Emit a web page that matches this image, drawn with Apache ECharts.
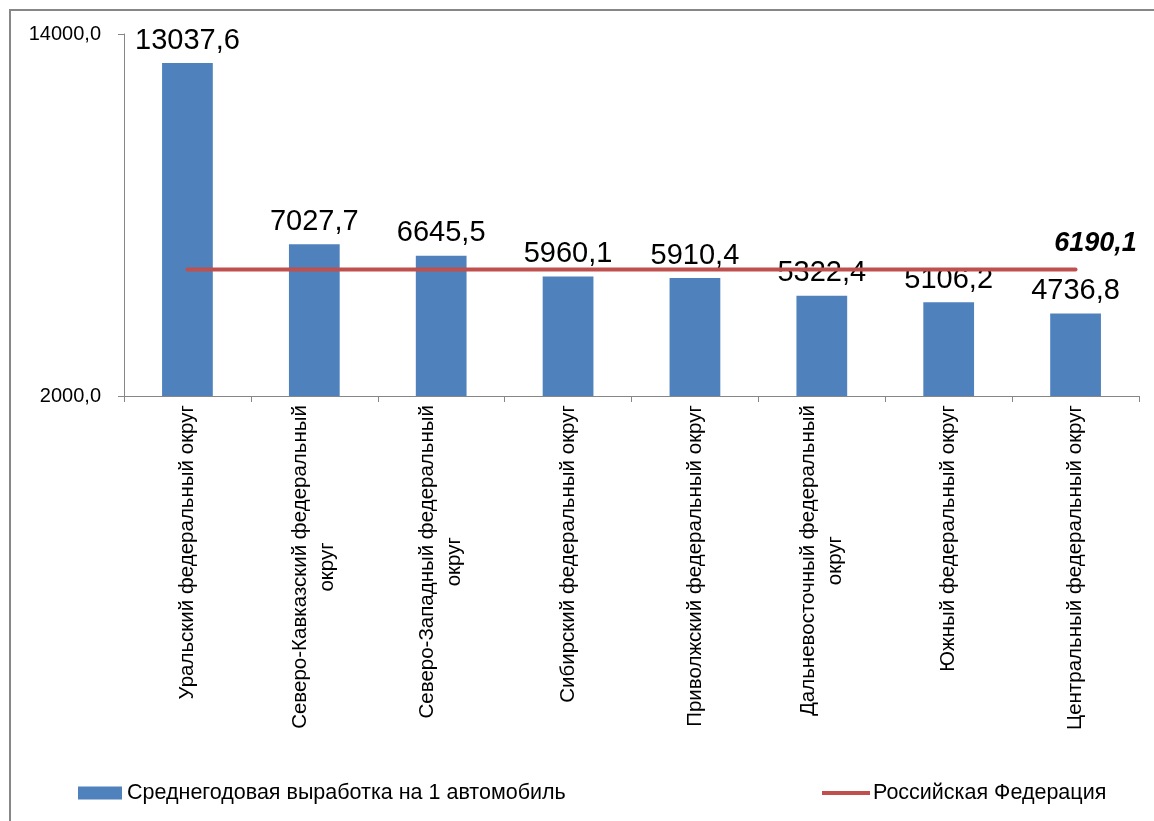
<!DOCTYPE html>
<html>
<head>
<meta charset="utf-8">
<script src="https://cdn.jsdelivr.net/npm/echarts@6/dist/echarts.min.js"></script>
<style>
  html, body { margin: 0; padding: 0; background: #fff; }
  #chart { width: 1154px; height: 821px; }
</style>
</head>
<body>
<div id="chart"></div>
<script>
// округа
const districts = [
  'Уральский федеральный округ',
  'Северо-Кавказский федеральный\nокруг',
  'Северо-Западный федеральный\nокруг',
  'Сибирский федеральный округ',
  'Приволжский федеральный округ',
  'Дальневосточный федеральный\nокруг',
  'Южный федеральный округ',
  'Центральный федеральный округ'
];
// среднегодовая выработка на 1 автомобиль
const output = [13037.6, 7027.7, 6645.5, 5960.1, 5910.4, 5322.4, 5106.2, 4736.8];
// средний уровень по РФ
const russia = [6190.1, 6190.1, 6190.1, 6190.1, 6190.1, 6190.1, 6190.1, 6190.1];
const yTicks = [2000, 14000];

const barName = 'Среднегодовая выработка на 1 автомобиль';
const lineName = 'Российская Федерация';
const font = '"Liberation Sans", Arial, sans-serif';

function fmt(v) {
  return v.toFixed(1).replace('.', ',');
}

// второй строке подписи — выравнивание по центру
function catLabel(s) {
  const parts = s.split('\n');
  if (parts.length < 2) return s;
  return '{a|' + parts[0] + '}\n{c|' + parts[1] + '}';
}

const chart = echarts.init(document.getElementById('chart'));

chart.setOption({
  animation: false,
  textStyle: { fontFamily: font },
  graphic: [{
    type: 'rect',
    shape: { x: 10, y: 10, width: 1300, height: 1000 },
    style: { fill: 'none', stroke: '#878787', lineWidth: 2 },
    silent: true
  }],
  grid: { left: 124, right: 15, top: 34, bottom: 425 },
  legend: [
    {
      data: [barName],
      left: 78, top: 782, padding: 0,
      icon: 'rect', itemWidth: 44, itemHeight: 13, itemGap: 0,
      textStyle: { fontSize: 21.5, color: '#000', fontFamily: font, padding: [0, 0, 0, 0] }
    },
    {
      data: [lineName],
      left: 822, top: 782, padding: 0,
      icon: 'rect', itemWidth: 48, itemHeight: 4, itemGap: 0,
      textStyle: { fontSize: 21.5, color: '#000', fontFamily: font, padding: [0, 0, 0, -2] }
    }
  ],
  xAxis: {
    type: 'category',
    data: districts,
    axisLine: { lineStyle: { color: '#868686', width: 1 } },
    axisTick: { show: true, length: 6, lineStyle: { color: '#868686' } },
    axisLabel: {
      rotate: 90,
      margin: 9,
      interval: 0,
      fontSize: 20.5,
      color: '#000',
      fontFamily: font,
      lineHeight: 27,
      formatter: catLabel,
      rich: {
        a: { fontSize: 20.5, color: '#000', fontFamily: font, lineHeight: 27 },
        c: { fontSize: 20.5, color: '#000', fontFamily: font, lineHeight: 27, align: 'center' }
      }
    }
  },
  yAxis: {
    type: 'value',
    min: 2000,
    max: 14000,
    splitLine: { show: false },
    axisLine: { show: true, lineStyle: { color: '#868686', width: 1 } },
    axisTick: { show: true, length: 6, customValues: yTicks, lineStyle: { color: '#868686' } },
    axisLabel: {
      customValues: yTicks,
      margin: 23,
      fontSize: 20,
      color: '#000',
      fontFamily: font,
      padding: [6, 0, 0, 0],
      formatter: fmt
    }
  },
  series: [
    {
      name: barName,
      type: 'bar',
      data: output,
      barWidth: '40%',
      itemStyle: { color: '#4F81BD' },
      label: {
        show: true,
        position: 'top',
        distance: 8,
        fontSize: 29,
        color: '#000',
        fontFamily: font,
        formatter: p => fmt(p.value)
      },
      z: 2
    },
    {
      name: lineName,
      type: 'line',
      data: russia,
      symbol: 'circle',
      symbolSize: 0,
      showSymbol: true,
      itemStyle: { color: '#C0504D' },
      lineStyle: { color: '#C0504D', width: 4, cap: 'round' },
      label: {
        show: true,
        position: 'top',
        distance: 13,
        offset: [20, 0],
        fontSize: 27,
        fontWeight: 'bold',
        fontStyle: 'italic',
        color: '#000',
        fontFamily: font,
        formatter: p => p.dataIndex === russia.length - 1 ? fmt(p.value) : ''
      },
      z: 3
    }
  ]
});
</script>
</body>
</html>
